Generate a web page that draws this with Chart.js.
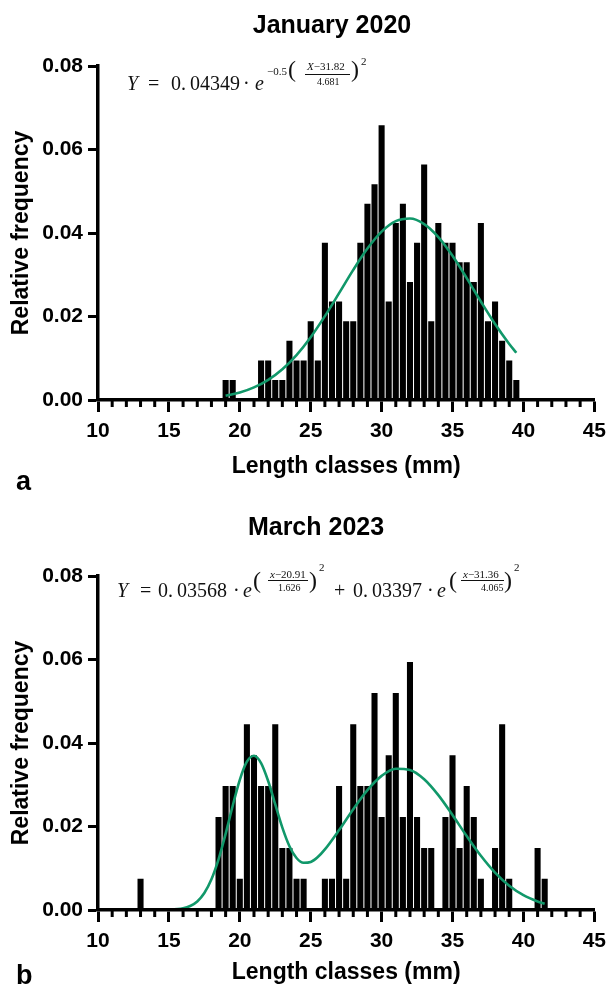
<!DOCTYPE html>
<html>
<head>
<meta charset="utf-8">
<script src="https://cdn.jsdelivr.net/npm/chart.js@4.4.1/dist/chart.umd.min.js"></script>
<style>
  html, body { margin: 0; padding: 0; background: #fff; }
  #page { position: relative; width: 613px; height: 986px; overflow: hidden; font-family: "Liberation Sans", Arial, sans-serif; color: #000; }
  canvas { position: absolute; left: 0; }
  .title { position: absolute; font-weight: bold; font-size: 25px; line-height: 1; transform: translateX(-50%); white-space: nowrap; }
  .panel { position: absolute; font-weight: bold; font-size: 27px; line-height: 1; }
  .eq span { position: absolute; white-space: nowrap; line-height: 1; font-family: "Liberation Serif", "DejaVu Serif", serif; color: #111; }
  .eq .rule { height: 1px; background: #111; }
  .eq i { font-style: italic; }
</style>
</head>
<body>
<div id="page">
  <canvas id="chartA" width="613" height="500" style="top:0"></canvas>
  <canvas id="chartB" width="613" height="486" style="top:500px"></canvas>

  <div class="title" style="left:332px; top:12px">January 2020</div>
  <div class="title" style="left:316px; top:514px">March 2023</div>
  <div class="panel" style="left:16px; top:468px">a</div>
  <div class="panel" style="left:16px; top:962px">b</div>

  <!-- fitted curve, panel a -->
  <div class="eq">
    <span style="left:127px; top:73px; font-size:20px"><i>Y</i></span>
    <span style="left:148px; top:73px; font-size:20px">=</span>
    <span style="left:171px; top:73px; font-size:20px">0.&thinsp;04349</span>
    <span style="left:243px; top:73px; font-size:20px">·</span>
    <span style="left:255px; top:73px; font-size:20px"><i>e</i></span>
    <span style="left:267px; top:66px; font-size:11px">−0.5</span>
    <span style="left:288px; top:57px; font-size:24px">(</span>
    <span style="left:307px; top:61px; font-size:11px"><i>X</i>−31.82</span>
    <span class="rule" style="left:305px; top:74px; width:45px"></span>
    <span style="left:317px; top:77px; font-size:10px">4.681</span>
    <span style="left:351px; top:57px; font-size:24px">)</span>
    <span style="left:361px; top:56px; font-size:11px">2</span>
  </div>

  <!-- fitted curve, panel b -->
  <div class="eq">
    <span style="left:117px; top:580px; font-size:20px"><i>Y</i></span>
    <span style="left:140px; top:580px; font-size:20px">=</span>
    <span style="left:158px; top:580px; font-size:20px">0.&thinsp;03568</span>
    <span style="left:233px; top:580px; font-size:20px">·</span>
    <span style="left:243px; top:580px; font-size:20px"><i>e</i></span>
    <span style="left:253px; top:568px; font-size:24px">(</span>
    <span style="left:270px; top:569px; font-size:11px"><i>x</i>−20.91</span>
    <span class="rule" style="left:268px; top:580px; width:40px"></span>
    <span style="left:278px; top:583px; font-size:10px">1.626</span>
    <span style="left:309px; top:568px; font-size:24px">)</span>
    <span style="left:319px; top:562px; font-size:11px">2</span>
    <span style="left:334px; top:580px; font-size:20px">+</span>
    <span style="left:353px; top:580px; font-size:20px">0.&thinsp;03397</span>
    <span style="left:427px; top:580px; font-size:20px">·</span>
    <span style="left:437px; top:580px; font-size:20px"><i>e</i></span>
    <span style="left:449px; top:568px; font-size:24px">(</span>
    <span style="left:463px; top:569px; font-size:11px"><i>x</i>−31.36</span>
    <span class="rule" style="left:461px; top:580px; width:43px"></span>
    <span style="left:481px; top:583px; font-size:10px">4.065</span>
    <span style="left:504px; top:568px; font-size:24px">)</span>
    <span style="left:514px; top:562px; font-size:11px">2</span>
  </div>
</div>

<script>
// Length-frequency histograms (0.5 mm classes) with the fitted Gaussian curves

const xMajorTicks = [10, 15, 20, 25, 30, 35, 40, 45];
const xMinorTicks = [11, 12, 13, 14, 16, 17, 18, 19, 21, 22, 23, 24, 26, 27, 28, 29,
                     31, 32, 33, 34, 36, 37, 38, 39, 41, 42, 43, 44];
const yTicks = [0, 0.02, 0.04, 0.06, 0.08];

// January 2020
const janClasses = [19, 19.5, 21.5, 22, 22.5, 23, 23.5, 24, 24.5, 25, 25.5, 26, 26.5, 27, 27.5,
                    28, 28.5, 29, 29.5, 30, 30.5, 31, 31.5, 32, 32.5, 33, 33.5, 34, 34.5, 35,
                    35.5, 36, 36.5, 37, 37.5, 38, 38.5, 39, 39.5];
const janFreq = [0.0047, 0.0047, 0.0094, 0.0094, 0.0047, 0.0047, 0.0141, 0.0094, 0.0094, 0.0188,
                 0.0094, 0.0376, 0.0235, 0.0235, 0.0188, 0.0188, 0.0376, 0.0469, 0.0516, 0.0657,
                 0.0235, 0.0423, 0.0469, 0.0282, 0.0376, 0.0563, 0.0188, 0.0423, 0.0376, 0.0376,
                 0.0329, 0.0329, 0.0282, 0.0423, 0.0188, 0.0235, 0.0141, 0.0094, 0.0047];
const janFitX = [19, 20, 21, 22, 23, 24, 25, 26, 27, 28, 29, 30, 31, 32, 33, 34, 35, 36, 37, 38, 39, 39.5];
const janFitY = [0.00102, 0.00179, 0.00301, 0.00482, 0.00737, 0.01077, 0.01505, 0.02008, 0.02559,
                 0.03117, 0.03627, 0.04032, 0.04283, 0.04346, 0.04213, 0.03902, 0.03453, 0.02919,
                 0.02358, 0.01819, 0.01341, 0.01132];

// March 2023
const marClasses = [13, 18.5, 19, 19.5, 20, 20.5, 21, 21.5, 22, 22.5, 23, 23.5, 24, 24.5,
                    26, 26.5, 27, 27.5, 28, 28.5, 29, 29.5, 30, 30.5, 31, 31.5, 32, 32.5, 33, 33.5,
                    34.5, 35, 35.5, 36, 36.5, 37, 38, 38.5, 39, 41, 41.5];
const marFreq = [0.0074, 0.0222, 0.0296, 0.0296, 0.0074, 0.0444, 0.0370, 0.0296, 0.0296, 0.0444,
                 0.0148, 0.0148, 0.0074, 0.0074, 0.0074, 0.0074, 0.0296, 0.0074, 0.0444, 0.0296,
                 0.0296, 0.0519, 0.0222, 0.0370, 0.0519, 0.0222, 0.0593, 0.0222, 0.0148, 0.0148,
                 0.0222, 0.0370, 0.0148, 0.0296, 0.0222, 0.0074, 0.0148, 0.0444, 0.0074, 0.0148, 0.0074];
const marFitX = [13, 14, 15, 16, 16.5, 17, 17.5, 18, 18.5, 19, 19.5, 20, 20.5, 21, 21.5, 22, 22.5,
                 23, 23.5, 24, 24.5, 25, 25.5, 26, 27, 28, 29, 30, 31, 32, 33, 34, 35, 36, 37, 38,
                 39, 40, 41, 41.5];
const marFitY = [0.0000, 0.0000, 0.00006, 0.00040, 0.00095, 0.00205, 0.00406, 0.00735, 0.01212,
                 0.01823, 0.02498, 0.03119, 0.03552, 0.03695, 0.03520, 0.03090, 0.02528, 0.01972,
                 0.01528, 0.01246, 0.01130, 0.01150, 0.01268, 0.01451, 0.01914, 0.02414, 0.02870,
                 0.03212, 0.03384, 0.03355, 0.03132, 0.02751, 0.02275, 0.01771, 0.01298, 0.00895,
                 0.00581, 0.00355, 0.00204, 0.00151];

const FIT_GREEN = '#11986a';

// short 1 mm ticks under the x axis (the long 5 mm ones come from the grid)
const minorTicks = {
  id: 'minorTicks',
  afterDraw(chart) {
    const sx = chart.scales.x;
    const ctx = chart.ctx;
    ctx.save();
    ctx.strokeStyle = '#000';
    ctx.lineWidth = 3;
    ctx.beginPath();
    xMinorTicks.forEach(v => {
      const px = sx.getPixelForValue(v);
      ctx.moveTo(px, sx.top);
      ctx.lineTo(px, sx.top + 7);
    });
    ctx.stroke();
    ctx.restore();
  }
};

function zip(xs, ys) {
  return xs.map((x, i) => ({ x: x, y: ys[i] }));
}

function buildChart(canvasId, classes, freq, fitX, fitY, padTop, xAxisHeight, xTitlePad) {
  return new Chart(document.getElementById(canvasId), {
    type: 'bar',
    data: {
      datasets: [
        {
          type: 'line',
          data: zip(fitX, fitY),
          borderColor: FIT_GREEN,
          borderWidth: 2.6,
          pointRadius: 0,
          cubicInterpolationMode: 'monotone',
          fill: false,
          order: 0
        },
        {
          data: zip(classes, freq),
          backgroundColor: '#000',
          borderWidth: 0,
          barThickness: 5.4,
          order: 1
        }
      ]
    },
    options: {
      responsive: false,
      animation: false,
      devicePixelRatio: 1,
      layout: { padding: { top: padTop, right: 10, left: 0, bottom: 0 } },
      plugins: { legend: { display: false }, tooltip: { enabled: false } },
      scales: {
        x: {
          type: 'linear',
          min: 10,
          max: 45,
          offset: false,
          afterFit: s => { s.height = xAxisHeight; },
          afterBuildTicks: s => { s.ticks = xMajorTicks.map(v => ({ value: v })); },
          border: { color: '#000', width: 3.5, z: 1 },
          grid: { offset: false, drawOnChartArea: false, drawTicks: true, tickLength: 12, tickWidth: 3, tickColor: '#000' },
          ticks: { color: '#000', font: { size: 21, weight: 'bold' }, padding: 7, autoSkip: false, maxRotation: 0 },
          title: {
            display: true,
            text: 'Length classes (mm)',
            color: '#000',
            font: { size: 23, weight: 'bold' },
            padding: { top: 0, bottom: xTitlePad }
          }
        },
        y: {
          min: 0,
          max: 0.08,
          afterFit: s => { s.width = 98; },
          afterBuildTicks: s => { s.ticks = yTicks.map(v => ({ value: v })); },
          border: { color: '#000', width: 3.5, z: 1 },
          grid: { drawOnChartArea: false, drawTicks: true, tickLength: 10, tickWidth: 3, tickColor: '#000' },
          ticks: { color: '#000', font: { size: 21, weight: 'bold' }, padding: 5, callback: v => v.toFixed(2) },
          title: {
            display: true,
            text: 'Relative frequency',
            color: '#000',
            font: { size: 23, weight: 'bold' },
            padding: { top: 8, bottom: 0 }
          }
        }
      }
    },
    plugins: [minorTicks]
  });
}

Chart.defaults.font.family = '"Liberation Sans", Arial, sans-serif';

buildChart('chartA', janClasses, janFreq, janFitX, janFitY, 66, 100, 20);
buildChart('chartB', marClasses, marFreq, marFitX, marFitY, 76, 76, 0);
</script>
</body>
</html>
